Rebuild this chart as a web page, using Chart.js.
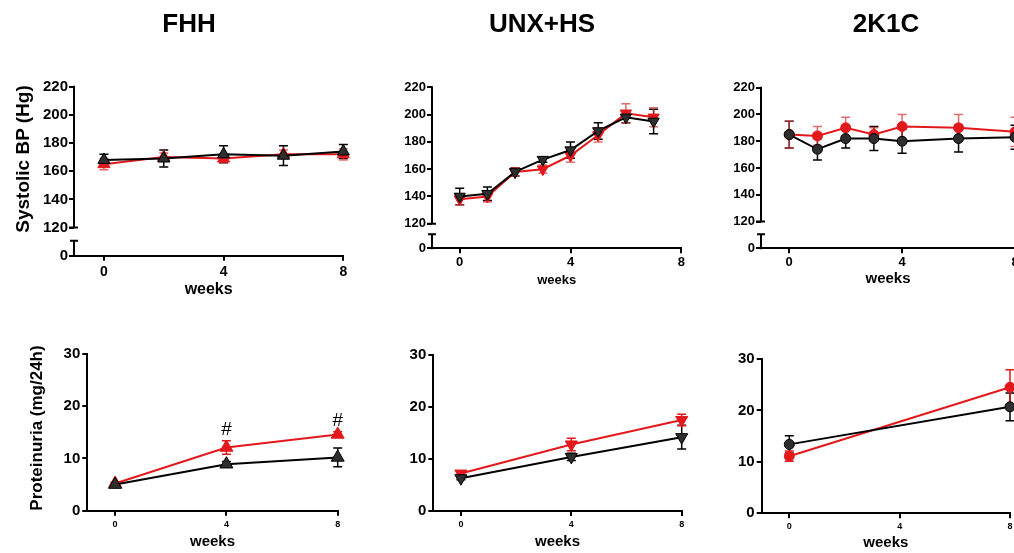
<!DOCTYPE html>
<html>
<head>
<meta charset="utf-8">
<script src="https://cdn.jsdelivr.net/npm/chart.js@4.4.1/dist/chart.umd.min.js"></script>
<style>
  html, body { margin: 0; padding: 0; background: #fff; width: 1014px; height: 553px; overflow: hidden; }
  body { position: relative; font-family: 'Liberation Sans', Arial, sans-serif; }
  canvas { position: absolute; left: 0; top: 0; }
  .lbl { position: absolute; font-weight: bold; white-space: nowrap; color: #000; transform: translate(-50%, -50%); line-height: 1; z-index: 2; }
  .rot { transform: translate(-50%, -50%) rotate(-90deg); }
</style>
</head>
<body>
<div class="lbl" style="left:189px;top:23px;font-size:26px">FHH</div>
<div class="lbl" style="left:542px;top:23px;font-size:26px">UNX+HS</div>
<div class="lbl" style="left:886px;top:23px;font-size:26px">2K1C</div>
<div class="lbl rot" style="left:22px;top:159px;font-size:19px">Systolic BP (Hg)</div>
<div class="lbl rot" style="left:36px;top:428px;font-size:17px">Proteinuria (mg/24h)</div>

<script>
// ---- data ----
const xTicks = [0, 4, 8];
const bpTicks = [120, 140, 160, 180, 200, 220];
const protTicks = [0, 10, 20, 30];

// FHH systolic BP
const fhhBpWeeks = [0, 2, 4, 6, 8];
const fhhBpBlack = [168, 169, 172, 171, 174];
const fhhBpBlackErr = [4, 6, 6, 7, 5];
const fhhBpRed = [165, 170, 169, 172, 172];
const fhhBpRedErr = [4, 3, 3, 3, 4];

// UNX+HS systolic BP
const unxBpWeeks = [0, 1, 2, 3, 4, 5, 6, 7];
const unxBpBlack = [140, 142, 158, 167, 174, 188, 198, 195];
const unxBpBlackErr = [6, 5, 3, 2, 6, 6, 4, 9];
const unxBpRed = [138, 140, 158, 160, 170, 185, 201, 198];
const unxBpRedErr = [4, 4, 3, 3, 5, 5, 7, 7];

// 2K1C systolic BP
const k1cBpWeeks = [0, 1, 2, 3, 4, 6, 8];
const k1cBpBlack = [185, 174, 182, 182, 180, 182, 183];
const k1cBpBlackErr = [10, 8, 7, 9, 9, 10, 9];
const k1cBpRed = [185, 184, 190, 185, 191, 190, 187];
const k1cBpRedErr = [10, 7, 8, 5, 9, 10, 11];

// FHH proteinuria
const fhhProtWeeks = [0, 4, 8];
const fhhProtBlack = [5.0, 8.9, 10.2];
const fhhProtBlackErr = [0.3, 0.5, 1.8];
const fhhProtRed = [5.2, 12.1, 14.6];
const fhhProtRedErr = [0.3, 1.3, 0.5];
const fhhProtSig = [false, true, true];

// UNX+HS proteinuria
const unxProtWeeks = [0, 4, 8];
const unxProtBlack = [6.3, 10.4, 14.2];
const unxProtBlackErr = [0.3, 0.7, 2.3];
const unxProtRed = [7.2, 12.8, 17.5];
const unxProtRedErr = [0.4, 1.2, 1.1];

// 2K1C proteinuria
const k1cProtWeeks = [0, 8];
const k1cProtBlack = [13.4, 20.7];
const k1cProtBlackErr = [1.7, 2.7];
const k1cProtRed = [11.1, 24.5];
const k1cProtRedErr = [1.0, 3.4];

// ---- drawing ----
const FONT = "'Liberation Sans', Arial, sans-serif";
const RED = '#e2191c';
const CW = 1040, CH = 553;

// error bars drawn under the points
const errorBars = {
  id: 'errorBars',
  beforeDatasetsDraw(chart) {
    const { ctx, scales: { y } } = chart;
    chart.data.datasets.forEach((ds, di) => {
      const meta = chart.getDatasetMeta(di);
      ctx.save();
      ctx.strokeStyle = ds.errColor;
      ctx.lineWidth = 1.5;
      meta.data.forEach((pt, i) => {
        const v = ds.data[i].y, e = ds.errors[i];
        const top = y.getPixelForValue(v + e), bot = y.getPixelForValue(v - e);
        ctx.beginPath();
        ctx.moveTo(pt.x, top); ctx.lineTo(pt.x, bot);
        ctx.moveTo(pt.x - 4.5, top); ctx.lineTo(pt.x + 4.5, top);
        ctx.moveTo(pt.x - 4.5, bot); ctx.lineTo(pt.x + 4.5, bot);
        ctx.stroke();
      });
      ctx.restore();
    });
  }
};

// y axis with a break between 0 and 120
const brokenAxis = {
  id: 'brokenAxis',
  afterDraw(chart, args, opts) {
    if (!opts.breakAt) return;
    const { ctx, chartArea: a, scales: { y } } = chart;
    const x = a.left;
    const yb = y.getPixelForValue(opts.breakAt);
    const ys = a.bottom - opts.stub;
    ctx.save();
    ctx.strokeStyle = '#000';
    ctx.lineWidth = 2;
    ctx.beginPath();
    ctx.moveTo(x, y.getPixelForValue(y.max) - 1);
    ctx.lineTo(x, yb);
    ctx.moveTo(x - 5, yb); ctx.lineTo(x + 4, yb);
    ctx.moveTo(x, a.bottom + 1);
    ctx.lineTo(x, ys);
    ctx.moveTo(x - 4, ys); ctx.lineTo(x + 4, ys);
    ctx.stroke();
    ctx.restore();
  }
};

// "#" marks above red points
const sigMarks = {
  id: 'sigMarks',
  afterDatasetsDraw(chart, args, opts) {
    if (!opts.flags) return;
    const { ctx, scales: { y } } = chart;
    const ds = chart.data.datasets[1];
    const meta = chart.getDatasetMeta(1);
    ctx.save();
    ctx.fillStyle = '#000';
    ctx.font = '19px ' + FONT;
    ctx.textAlign = 'center';
    ctx.textBaseline = 'middle';
    opts.flags.forEach((f, i) => {
      if (!f) return;
      const top = y.getPixelForValue(ds.data[i].y + ds.errors[i]);
      ctx.fillText('#', meta.data[i].x, top - 11);
    });
    ctx.restore();
  }
};

function makePanel(p) {
  const canvas = document.createElement('canvas');
  canvas.width = CW;
  canvas.height = CH;
  document.body.appendChild(canvas);
  const [left, right, top, bottom] = p.area;
  const yW = 45;
  const xH = p.weeksY + p.weeksSize * 0.6 - bottom;
  const ds = (vals, errs, color, fill, errColor) => ({
    data: p.weeks.map((w, i) => ({ x: w, y: vals[i] })),
    errors: errs,
    errColor: errColor,
    borderColor: color,
    backgroundColor: fill,
    borderWidth: 2,
    pointStyle: p.marker,
    pointRotation: p.rotation,
    pointRadius: p.radius,
    pointBackgroundColor: fill,
    pointBorderColor: color,
    pointBorderWidth: 1,
    tension: 0,
    clip: false
  });
  new Chart(canvas.getContext('2d'), {
    type: 'line',
    data: {
      datasets: [
        ds(p.black, p.blackErr, '#000', '#2e2e2e', '#000'),
        ds(p.red, p.redErr, RED, RED, p.redErrColor)
      ]
    },
    options: {
      responsive: false,
      animation: false,
      events: [],
      layout: {
        autoPadding: false,
        padding: { left: left - yW, top: top, right: CW - right, bottom: CH - bottom - xH }
      },
      plugins: {
        legend: { display: false },
        tooltip: { enabled: false },
        brokenAxis: { breakAt: p.breakAt, stub: p.stub },
        sigMarks: { flags: p.sig }
      },
      scales: {
        x: {
          type: 'linear', min: -1, max: 8,
          afterBuildTicks: s => { s.ticks = xTicks.map(v => ({ value: v })); },
          afterFit: s => { s.height = xH; },
          grid: { drawOnChartArea: false, drawTicks: true, tickLength: 5, color: '#000', lineWidth: 2 },
          border: { display: true, color: '#000', width: 2 },
          ticks: { color: '#000', padding: p.xPad, maxRotation: 0, font: { family: FONT, size: p.xFont, weight: 'bold' } },
          title: { display: true, text: 'weeks', color: '#000', padding: 0, font: { family: FONT, size: p.weeksSize, weight: 'bold' } }
        },
        y: {
          type: 'linear', min: p.yMin, max: p.yMax,
          afterBuildTicks: s => { s.ticks = p.yTicks.map(v => ({ value: v })); },
          afterFit: s => { s.width = yW; },
          grid: { drawOnChartArea: false, drawTicks: true, tickLength: 5, color: '#000', lineWidth: 2 },
          border: { display: !p.breakAt, color: '#000', width: 2 },
          ticks: {
            color: '#000', padding: p.yPad,
            font: { family: FONT, size: p.yFont, weight: 'bold' },
            callback: v => (p.breakAt && v === p.yMin ? '0' : v)
          }
        }
      }
    },
    plugins: [errorBars, brokenAxis, sigMarks]
  });
}

const bpCommon = { yMax: 220, breakAt: 120, redErrColor: 'rgba(214,60,60,0.75)' };
const protCommon = { yMin: 0, yMax: 30, yTicks: protTicks, yFont: 15, yPad: 2, xFont: 9, xPad: 3, weeksSize: 15, redErrColor: RED };

makePanel(Object.assign({}, bpCommon, {
  area: [74, 343.3, 86.7, 255.7], yMin: 100, yTicks: [100].concat(bpTicks), stub: 15,
  yFont: 15, yPad: 1, xFont: 14, xPad: 3, weeksSize: 16, weeksY: 290,
  weeks: fhhBpWeeks, black: fhhBpBlack, blackErr: fhhBpBlackErr, red: fhhBpRed, redErr: fhhBpRedErr,
  marker: 'triangle', rotation: 0, radius: 7
}));
makePanel(Object.assign({}, bpCommon, {
  area: [432, 681.3, 87.3, 248.3], yMin: 102, yTicks: [102].concat(bpTicks), stub: 14,
  yFont: 13, yPad: 1, xFont: 13, xPad: 1, weeksSize: 13, weeksY: 280.7,
  weeks: unxBpWeeks, black: unxBpBlack, blackErr: unxBpBlackErr, red: unxBpRed, redErr: unxBpRedErr,
  marker: 'triangle', rotation: 180, radius: 6.5
}));
makePanel(Object.assign({}, bpCommon, {
  area: [761, 1015, 87.7, 248.3], yMin: 100, yTicks: [100].concat(bpTicks), stub: 14,
  yFont: 13, yPad: 1, xFont: 13, xPad: 1, weeksSize: 15, weeksY: 279.3,
  weeks: k1cBpWeeks, black: k1cBpBlack, blackErr: k1cBpBlackErr, red: k1cBpRed, redErr: k1cBpRedErr,
  marker: 'circle', rotation: 0, radius: 5
}));
makePanel(Object.assign({}, protCommon, {
  area: [87.3, 337.7, 354, 510.7], weeksY: 542.3,
  weeks: fhhProtWeeks, black: fhhProtBlack, blackErr: fhhProtBlackErr, red: fhhProtRed, redErr: fhhProtRedErr,
  sig: fhhProtSig, marker: 'triangle', rotation: 0, radius: 7.5
}));
makePanel(Object.assign({}, protCommon, {
  area: [433.3, 681.7, 355, 511], weeksY: 541.7,
  weeks: unxProtWeeks, black: unxProtBlack, blackErr: unxProtBlackErr, red: unxProtRed, redErr: unxProtRedErr,
  marker: 'triangle', rotation: 180, radius: 7
}));
makePanel(Object.assign({}, protCommon, {
  area: [761.7, 1010, 359, 513.3], weeksY: 543.3,
  weeks: k1cProtWeeks, black: k1cProtBlack, blackErr: k1cProtBlackErr, red: k1cProtRed, redErr: k1cProtRedErr,
  marker: 'circle', rotation: 0, radius: 5
}));
</script>
</body>
</html>
